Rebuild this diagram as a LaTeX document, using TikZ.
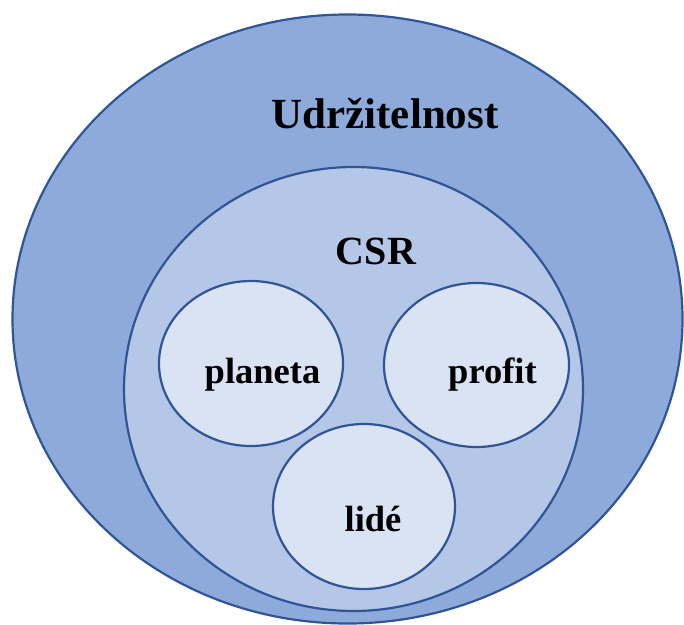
\documentclass[tikz,border=0pt]{standalone}
\usepackage{fontspec}
\setmainfont{Liberation Serif}
\usetikzlibrary{shapes.geometric}
\definecolor{bordc}{HTML}{2F5597}
\definecolor{fillA}{HTML}{8EAADB}
\definecolor{fillB}{HTML}{B4C7E7}
\definecolor{fillC}{HTML}{DAE3F3}
\tikzset{
  ring/.style={ellipse, draw=bordc, line width=2.2pt, inner sep=0pt},
  lbl/.style={anchor=base, inner sep=0pt, font=\bfseries}
}
\begin{document}
\begin{tikzpicture}[x=1pt,y=-1pt]
\useasboundingbox (0,0) rectangle (684,624);
\node[ring, fill=fillA, minimum width=670pt, minimum height=609pt] (outer) at (347.5,319) {};
\node[ring, fill=fillB, minimum width=459pt, minimum height=444pt] (csr) at (353.5,389) {};
\node[ring, fill=fillC, minimum width=184pt, minimum height=165pt] (planeta) at (251,363.5) {};
\node[ring, fill=fillC, minimum width=185pt, minimum height=164pt] (profit) at (476.5,365) {};
\node[ring, fill=fillC, minimum width=182pt, minimum height=165pt] (lide) at (364,506.5) {};
\node[lbl, font=\fontsize{43}{50}\selectfont\bfseries] (t1) at (385,128) {Udržitelnost};
\node[lbl, font=\fontsize{40}{48}\selectfont\bfseries] (t2) at (376,264) {CSR};
\node[lbl, font=\fontsize{36.5}{44}\selectfont\bfseries] (t3) at (262.5,383) {planeta};
\node[lbl, font=\fontsize{36.5}{44}\selectfont\bfseries] (t4) at (492.5,383) {profit};
\node[lbl, font=\fontsize{36.5}{44}\selectfont\bfseries] (t5) at (373,531) {lidé};
\end{tikzpicture}
\end{document}
